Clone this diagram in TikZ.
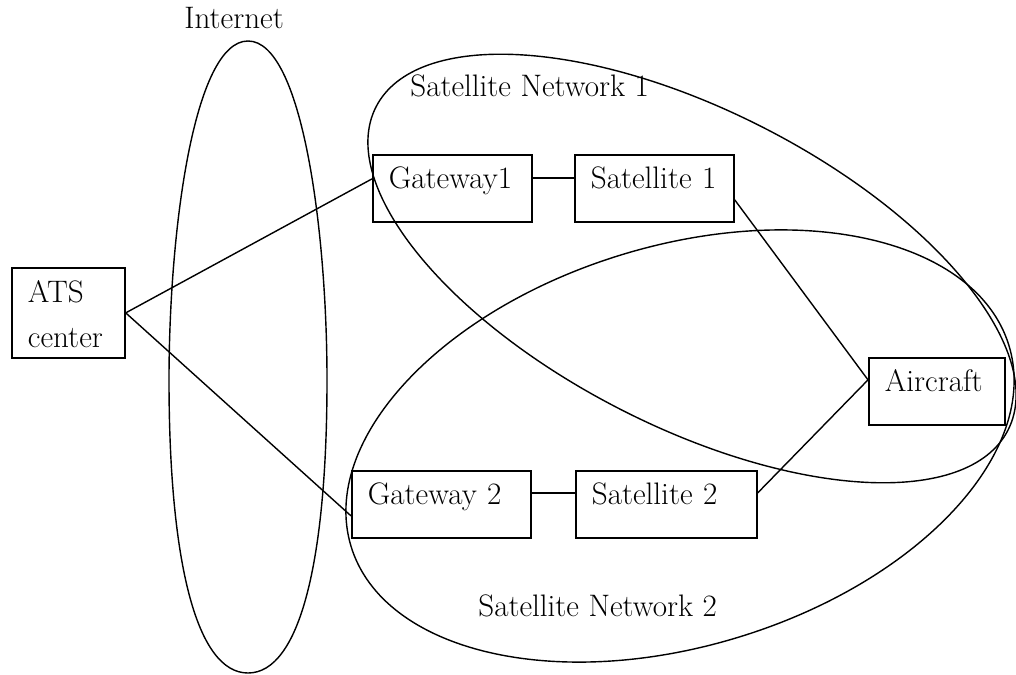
\documentclass[tikz,border=0pt]{standalone}
\usepackage{fontspec}
\usepackage{tikz}
\usetikzlibrary{positioning, calc}

\begin{document}
\begin{tikzpicture}[x=0.02cm, y=-0.02cm,
    every node/.style={font=\fontsize{17.7}{25.6}\selectfont},
    unitbox/.style={draw, line width=1pt, anchor=north west, align=left,
      inner xsep=0.32cm, inner ysep=0pt, text height=0.68cm, text depth=0.66cm,
      text width=#1},
    tag/.style={inner sep=0pt, anchor=base west},
    ring/.style={line width=0.8pt},
    link/.style={line width=0.8pt}]
      \useasboundingbox (0,0) rectangle (1016,675);

      % clouds
      \draw[ring] (248,41) .. controls (302,41) and (327,230) .. (327,380)
        .. controls (327,560) and (300,673) .. (248,673)
        .. controls (196,673) and (169,560) .. (169,380)
        .. controls (169,230) and (194,41) .. cycle;
      \draw[ring, rotate around={-27.1:(692,268.5)}] (692,268.5) ellipse [x radius=7.1cm, y radius=3.16cm];
      \draw[ring, rotate around={17:(680,446)}] (680,446) ellipse [x radius=6.88cm, y radius=4cm];

      \node[tag] (inet) at (184,29) {Internet};
      \node[tag] (net1) at (410,97) {Satellite Network 1};
      \node[tag] (net2) at (478,616) {Satellite Network 2};

      % boxes
      \node[unitbox=1.62cm, text height=0.7cm, text depth=1.1cm] (ats) at (11,267) {ATS\\center};
      \node[unitbox=2.54cm] (gw1) at (372,154) {Gateway1};
      \node[unitbox=2.54cm] (sat1) at (574,154) {Satellite 1};
      \node[unitbox=2.94cm] (gw2) at (351,470) {Gateway 2};
      \node[unitbox=2.98cm] (sat2) at (575,470) {Satellite 2};
      \node[unitbox=2.08cm] (aircraft) at (868,357) {Aircraft};

      % links
      \draw[link] (ats.east) -- ([yshift=0.19cm]gw1.west);
      \draw[link] (ats.east) -- ([yshift=-0.23cm]gw2.west);
      \draw[link] ([yshift=0.21cm]gw1.east) -- ([yshift=0.21cm]sat1.west);
      \draw[link] ([yshift=0.23cm]gw2.east) -- ([yshift=0.23cm]sat2.west);
      \draw[link] ([yshift=-0.23cm]sat1.east) -- ([yshift=0.23cm]aircraft.west);
      \draw[link] ([yshift=0.23cm]sat2.east) -- ([yshift=0.23cm]aircraft.west);

    \end{tikzpicture}
\end{document}
